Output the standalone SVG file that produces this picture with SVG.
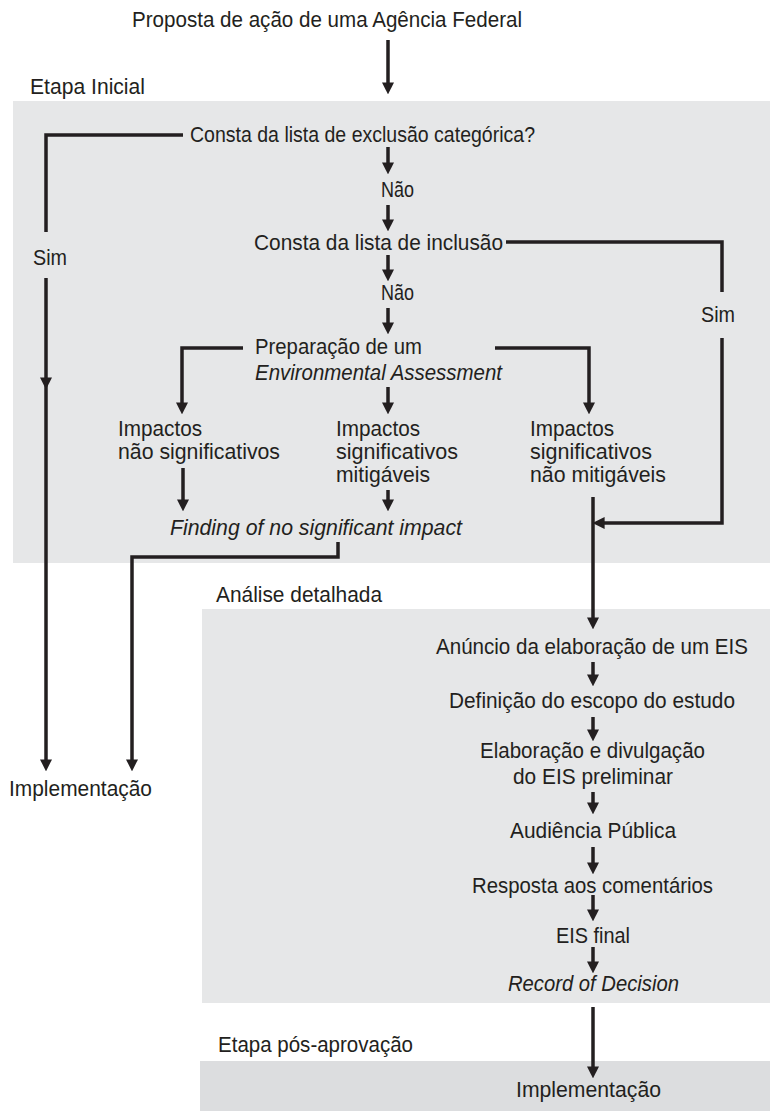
<svg xmlns="http://www.w3.org/2000/svg" width="770" height="1111" viewBox="0 0 770 1111">
<defs>
<marker id="ah" markerUnits="userSpaceOnUse" markerWidth="12" markerHeight="12" viewBox="0 0 10 10" refX="3" refY="5" orient="auto">
<path d="M0,0 L10,5 L0,10 z" fill="#231f20"/>
</marker>
<style>
.t{font-family:"Liberation Sans","DejaVu Sans",sans-serif;font-size:22px;fill:#231f20;}
.i{font-style:italic;}
.c{fill:none;stroke:#231f20;stroke-width:3.5;stroke-linejoin:miter;}
.a{marker-end:url(#ah);}
.p1{fill:#e6e7e8;}
.p3{fill:#dcdddf;}
</style>
</defs>
<g id="panels">
<rect class="p1" x="13" y="101" width="757" height="462"/>
<rect class="p1" x="202" y="609" width="568" height="394"/>
<rect class="p3" x="200" y="1061" width="570" height="50"/>
</g>
<g id="stage-labels">
<text class="t" x="30" y="94" textLength="115" lengthAdjust="spacingAndGlyphs">Etapa Inicial</text>
<text class="t" x="216" y="602" textLength="166" lengthAdjust="spacingAndGlyphs">Análise detalhada</text>
<text class="t" x="218" y="1052" textLength="195" lengthAdjust="spacingAndGlyphs">Etapa pós-aprovação</text>
</g>
<g id="connectors">
<path class="c a" d="M388,40 V86"/>
<path class="c a" d="M388,147 V166"/>
<path class="c a" d="M388,205 V223"/>
<path class="c a" d="M388,255 V273"/>
<path class="c a" d="M388,308 V326"/>
<path class="c a" d="M388,387 V406"/>
<path class="c a" d="M388,490 V503"/>
<path class="c" d="M183,135 H46 V232"/>
<path class="c a" d="M46,278 V381"/>
<path class="c a" d="M46,381 V763"/>
<path class="c a" d="M243,348 H182 V406"/>
<path class="c a" d="M495,348 H589 V406"/>
<path class="c a" d="M183,468 V503"/>
<path class="c a" d="M338,542 V557 H132 V763"/>
<path class="c" d="M506,242 H722 V292"/>
<path class="c a" d="M722,338 V523 H601"/>
<path class="c a" d="M593,497 V621"/>
<path class="c a" d="M593,662 V678"/>
<path class="c a" d="M593,717 V733"/>
<path class="c a" d="M593,792 V806"/>
<path class="c a" d="M593,847 V866"/>
<path class="c a" d="M593,895 V913"/>
<path class="c a" d="M593,947 V965"/>
<path class="c a" d="M593,1007 V1070"/>
</g>
<g id="n-proposta"><text class="t" x="132" y="27" textLength="390" lengthAdjust="spacingAndGlyphs">Proposta de ação de uma Agência Federal</text></g>
<g id="n-exclusao"><text class="t" x="190" y="142" textLength="345" lengthAdjust="spacingAndGlyphs">Consta da lista de exclusão categórica?</text></g>
<g id="n-nao1"><text class="t" x="381" y="197" textLength="33" lengthAdjust="spacingAndGlyphs">Não</text></g>
<g id="n-sim1"><text class="t" x="33" y="265" textLength="34" lengthAdjust="spacingAndGlyphs">Sim</text></g>
<g id="n-inclusao"><text class="t" x="254" y="250" textLength="249" lengthAdjust="spacingAndGlyphs">Consta da lista de inclusão</text></g>
<g id="n-nao2"><text class="t" x="381" y="300" textLength="33" lengthAdjust="spacingAndGlyphs">Não</text></g>
<g id="n-sim2"><text class="t" x="701" y="322" textLength="34" lengthAdjust="spacingAndGlyphs">Sim</text></g>
<g id="n-ea">
<text class="t" x="255" y="354" textLength="167" lengthAdjust="spacingAndGlyphs">Preparação de um</text>
<text class="t i" x="255" y="380" textLength="247" lengthAdjust="spacingAndGlyphs">Environmental Assessment</text>
</g>
<g id="n-imp-ns">
<text class="t" x="118" y="436" textLength="84" lengthAdjust="spacingAndGlyphs">Impactos</text>
<text class="t" x="118" y="459" textLength="162" lengthAdjust="spacingAndGlyphs">não significativos</text>
</g>
<g id="n-imp-sm">
<text class="t" x="336" y="436" textLength="84" lengthAdjust="spacingAndGlyphs">Impactos</text>
<text class="t" x="336" y="459" textLength="122" lengthAdjust="spacingAndGlyphs">significativos</text>
<text class="t" x="336" y="482" textLength="94" lengthAdjust="spacingAndGlyphs">mitigáveis</text>
</g>
<g id="n-imp-snm">
<text class="t" x="530" y="436" textLength="84" lengthAdjust="spacingAndGlyphs">Impactos</text>
<text class="t" x="530" y="459" textLength="122" lengthAdjust="spacingAndGlyphs">significativos</text>
<text class="t" x="530" y="482" textLength="136" lengthAdjust="spacingAndGlyphs">não mitigáveis</text>
</g>
<g id="n-fonsi"><text class="t i" x="170" y="535" textLength="292" lengthAdjust="spacingAndGlyphs">Finding of no significant impact</text></g>
<g id="n-impl1"><text class="t" x="9" y="796" textLength="143" lengthAdjust="spacingAndGlyphs">Implementação</text></g>
<g id="n-anuncio"><text class="t" x="436" y="654" textLength="312" lengthAdjust="spacingAndGlyphs">Anúncio da elaboração de um EIS</text></g>
<g id="n-escopo"><text class="t" x="449" y="708" textLength="286" lengthAdjust="spacingAndGlyphs">Definição do escopo do estudo</text></g>
<g id="n-preliminar">
<text class="t" x="480" y="758" textLength="225" lengthAdjust="spacingAndGlyphs">Elaboração e divulgação</text>
<text class="t" x="513" y="784" textLength="160" lengthAdjust="spacingAndGlyphs">do EIS preliminar</text>
</g>
<g id="n-audiencia"><text class="t" x="510" y="838" textLength="166" lengthAdjust="spacingAndGlyphs">Audiência Pública</text></g>
<g id="n-resposta"><text class="t" x="472" y="893" textLength="241" lengthAdjust="spacingAndGlyphs">Resposta aos comentários</text></g>
<g id="n-final"><text class="t" x="556" y="943" textLength="74" lengthAdjust="spacingAndGlyphs">EIS final</text></g>
<g id="n-rod"><text class="t i" x="508" y="991" textLength="171" lengthAdjust="spacingAndGlyphs">Record of Decision</text></g>
<g id="n-impl2"><text class="t" x="516" y="1097" textLength="145" lengthAdjust="spacingAndGlyphs">Implementação</text></g>
</svg>
